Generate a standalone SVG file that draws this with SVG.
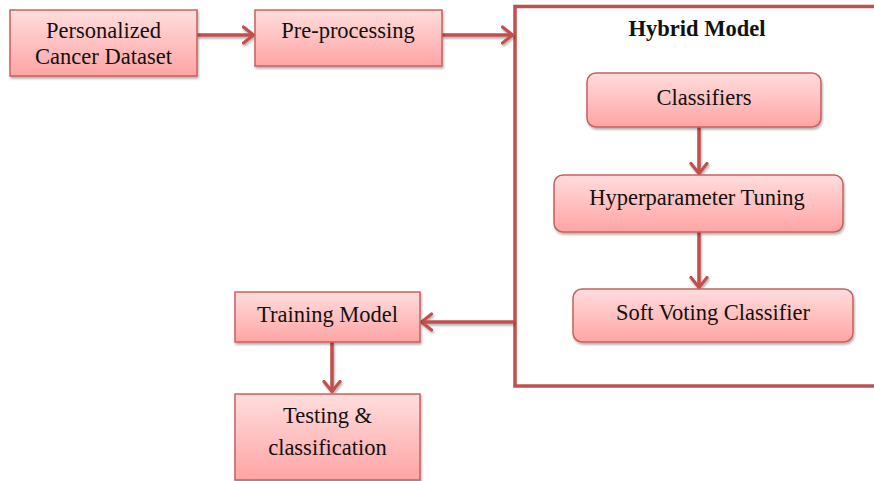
<svg xmlns="http://www.w3.org/2000/svg" width="874" height="481" viewBox="0 0 874 481">
<defs>
<linearGradient id="g" x1="0" y1="0" x2="0" y2="1">
<stop offset="0" stop-color="#ffdddd"/>
<stop offset="1" stop-color="#ffa4a4"/>
</linearGradient>
<filter id="sh" x="-10%" y="-10%" width="130%" height="140%">
<feDropShadow dx="1" dy="2" stdDeviation="1.2" flood-color="#000" flood-opacity="0.3"/>
</filter>
<filter id="shl" filterUnits="userSpaceOnUse" x="0" y="0" width="874" height="481">
<feDropShadow dx="1" dy="2" stdDeviation="1.2" flood-color="#000" flood-opacity="0.3"/>
</filter>
<marker id="ah" viewBox="0 0 14 20" refX="12.5" refY="10" markerWidth="14" markerHeight="20" markerUnits="userSpaceOnUse" orient="auto">
<path d="M2,2 L12,10 L2,18" fill="none" stroke="#c0504d" stroke-width="3.2" stroke-linecap="round" stroke-linejoin="round"/>
</marker>
<style>
.box{fill:url(#g);stroke:#c9605d;stroke-width:1.5;filter:url(#sh)}
.t{font-family:"Liberation Serif","Times New Roman",serif;font-size:22.5px;fill:#111;text-anchor:middle}
.b{font-weight:bold}
.c{fill:none;stroke:#c0504d;stroke-width:3.5;marker-end:url(#ah)}
.frame{fill:none;stroke:#c0504d;stroke-width:3.5}
</style>
</defs>
<rect width="874" height="481" fill="#fff"/>
<g id="hybrid-model">
<rect class="frame" x="515" y="6.5" width="400" height="379.5"/>
<text class="t b" x="697" y="36">Hybrid Model</text>
</g>
<g id="connectors" filter="url(#shl)">
<line class="c" x1="197" y1="35" x2="254" y2="35"/>
<line class="c" x1="442" y1="35" x2="513" y2="35"/>
<line class="c" x1="699" y1="127" x2="699" y2="174"/>
<line class="c" x1="699" y1="232" x2="699" y2="288"/>
<line class="c" x1="514" y1="322" x2="421" y2="322"/>
<line class="c" x1="332" y1="342" x2="332" y2="392"/>
</g>
<g id="personalized-cancer-dataset">
<rect class="box" x="10" y="10" width="187" height="66"/>
<text class="t" x="103.5" y="38">Personalized</text>
<text class="t" x="103.5" y="64">Cancer Dataset</text>
</g>
<g id="pre-processing">
<rect class="box" x="255" y="10" width="187" height="56"/>
<text class="t" x="348" y="38">Pre-processing</text>
</g>
<g id="classifiers">
<rect class="box" x="587" y="73" width="234" height="54" rx="9"/>
<text class="t" x="704" y="105">Classifiers</text>
</g>
<g id="hyperparameter-tuning">
<rect class="box" x="554" y="175" width="289" height="57" rx="9"/>
<text class="t" x="697" y="205">Hyperparameter Tuning</text>
</g>
<g id="soft-voting-classifier">
<rect class="box" x="573" y="289" width="280" height="53" rx="9"/>
<text class="t" x="713" y="320">Soft Voting Classifier</text>
</g>
<g id="training-model">
<rect class="box" x="235" y="292" width="185" height="50"/>
<text class="t" x="327.5" y="322">Training Model</text>
</g>
<g id="testing-classification">
<rect class="box" x="235" y="394" width="185" height="86"/>
<text class="t" x="327.5" y="423">Testing &amp;</text>
<text class="t" x="327.5" y="455">classification</text>
</g>
</svg>
